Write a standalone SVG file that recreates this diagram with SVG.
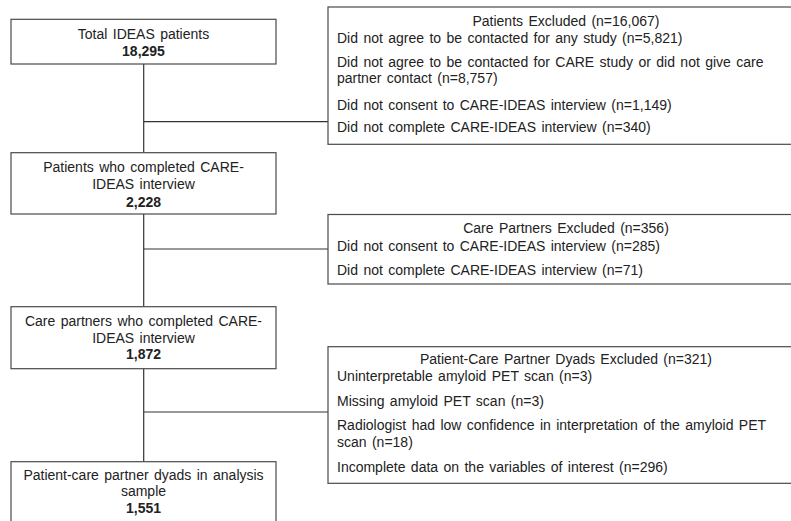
<svg xmlns="http://www.w3.org/2000/svg" width="791" height="521" viewBox="0 0 791 521">
<style>
.box{fill:#fff;stroke:#4a4a4a;stroke-width:1.2}
.ln{fill:none;stroke:#333;stroke-width:1.2}
text{font-family:"Liberation Sans",Arial,sans-serif;font-size:14px;fill:#222;word-spacing:1.5px}
.c{text-anchor:middle}
.b{font-weight:bold}
</style>
<rect width="791" height="521" fill="#fff"/>
<g id="connectors">
<path class="ln" d="M143.7 64V152.7M143.7 121.7H328"/>
<path class="ln" d="M143.7 214V306.7M143.7 249H328"/>
<path class="ln" d="M143.7 368.7V461.7M143.7 412H328"/>
</g>
<g id="n1">
<rect class="box" x="11" y="19.3" width="265" height="44.7"/>
<text class="c" x="143.5" y="39">Total IDEAS patients</text>
<text class="c b" x="143.5" y="55.7">18,295</text>
</g>
<g id="n2">
<rect class="box" x="11" y="152.7" width="265" height="61.3"/>
<text class="c" x="143.5" y="171.7">Patients who completed CARE-</text>
<text class="c" x="143.5" y="189">IDEAS interview</text>
<text class="c b" x="143.5" y="206.5">2,228</text>
</g>
<g id="n3">
<rect class="box" x="11" y="306.7" width="265" height="62"/>
<text class="c" x="143.5" y="326">Care partners who completed CARE-</text>
<text class="c" x="143.5" y="342.7">IDEAS interview</text>
<text class="c b" x="143.5" y="359">1,872</text>
</g>
<g id="n4">
<rect class="box" x="11" y="461.7" width="265" height="80"/>
<text class="c" x="143.5" y="479.5">Patient-care partner dyads in analysis</text>
<text class="c" x="143.5" y="496">sample</text>
<text class="c b" x="143.5" y="512.7">1,551</text>
</g>
<g id="e1">
<rect class="box" x="328" y="7" width="480" height="137.3"/>
<text class="c" x="566" y="26">Patients Excluded (n=16,067)</text>
<text x="337" y="42.7">Did not agree to be contacted for any study (n=5,821)</text>
<text x="337" y="66.7">Did not agree to be contacted for CARE study or did not give care</text>
<text x="337" y="83.3">partner contact (n=8,757)</text>
<text x="337" y="109.5">Did not consent to CARE-IDEAS interview (n=1,149)</text>
<text x="337" y="132">Did not complete CARE-IDEAS interview (n=340)</text>
</g>
<g id="e2">
<rect class="box" x="328" y="214.5" width="480" height="69.5"/>
<text class="c" x="566" y="233.3">Care Partners Excluded (n=356)</text>
<text x="337" y="251">Did not consent to CARE-IDEAS interview (n=285)</text>
<text x="337" y="275">Did not complete CARE-IDEAS interview (n=71)</text>
</g>
<g id="e3">
<rect class="box" x="328" y="346.7" width="480" height="136.6"/>
<text class="c" x="566" y="364">Patient-Care Partner Dyads Excluded (n=321)</text>
<text x="337" y="381">Uninterpretable amyloid PET scan (n=3)</text>
<text x="337" y="405.8">Missing amyloid PET scan (n=3)</text>
<text x="337" y="430.3">Radiologist had low confidence in interpretation of the amyloid PET</text>
<text x="337" y="446.8">scan (n=18)</text>
<text x="337" y="472.3">Incomplete data on the variables of interest (n=296)</text>
</g>
</svg>
